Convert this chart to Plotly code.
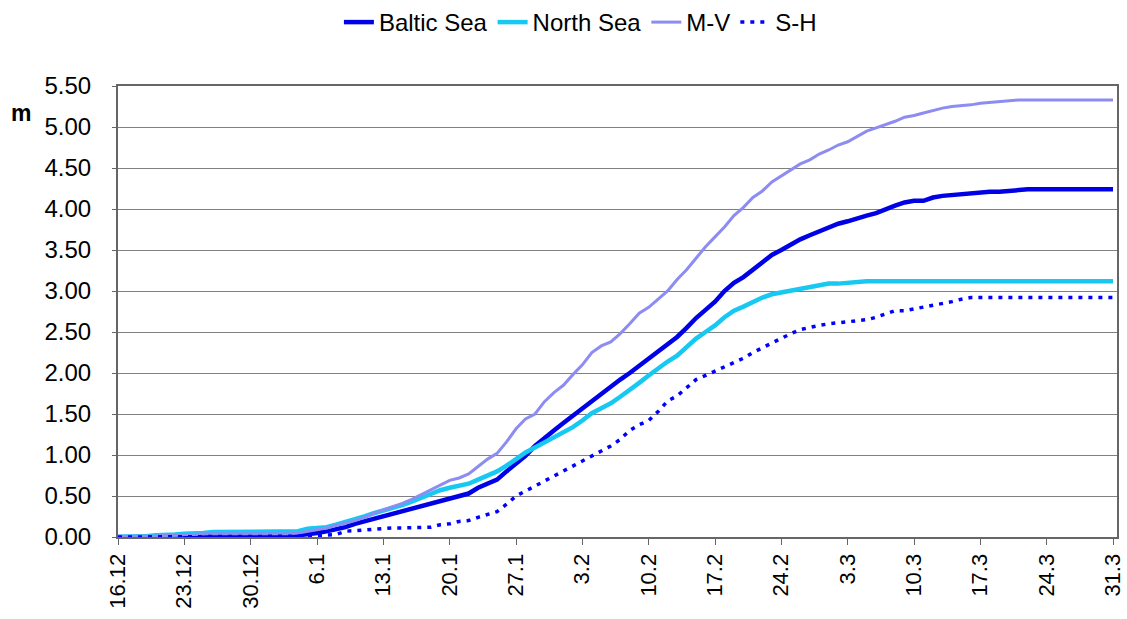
import plotly.graph_objects as go

# Days from 16.12 to 31.3 (106 daily values)
days = list(range(106))
tick_days = [0, 7, 14, 21, 28, 35, 42, 49, 56, 63, 70, 77, 84, 91, 98, 105]
tick_labels = ["16.12", "23.12", "30.12", "6.1", "13.1", "20.1", "27.1", "3.2",
               "10.2", "17.2", "24.2", "3.3", "10.3", "17.3", "24.3", "31.3"]

baltic_sea = [
    0.00, 0.00, 0.00, 0.00, 0.00, 0.01, 0.01, 0.01, 0.01, 0.01,
    0.01, 0.01, 0.01, 0.01, 0.01, 0.01, 0.01, 0.01, 0.01, 0.02,
    0.03, 0.05, 0.07, 0.09, 0.12, 0.16, 0.19, 0.23, 0.26, 0.29,
    0.32, 0.35, 0.37, 0.40, 0.43, 0.46, 0.49, 0.53, 0.60, 0.65,
    0.70, 0.80, 0.90, 0.99, 1.11, 1.21, 1.30, 1.39, 1.48, 1.57,
    1.66, 1.75, 1.84, 1.92, 2.00, 2.09, 2.17, 2.26, 2.35, 2.44,
    2.55, 2.67, 2.77, 2.87, 3.00, 3.10, 3.17, 3.26, 3.35, 3.44,
    3.50, 3.57, 3.63, 3.68, 3.73, 3.78, 3.82, 3.85, 3.89, 3.92,
    3.95, 4.00, 4.04, 4.08, 4.10, 4.10, 4.14, 4.16, 4.17, 4.19,
    4.20, 4.21, 4.21, 4.21, 4.22, 4.24, 4.24, 4.24, 4.24, 4.24,
    4.24, 4.24, 4.24, 4.24, 4.24, 4.24,
]

north_sea = [
    0.00, 0.00, 0.01, 0.01, 0.02, 0.02, 0.03, 0.04, 0.04, 0.05,
    0.06, 0.06, 0.06, 0.06, 0.06, 0.06, 0.06, 0.06, 0.06, 0.07,
    0.10, 0.11, 0.12, 0.15, 0.18, 0.21, 0.25, 0.29, 0.32, 0.36,
    0.39, 0.43, 0.48, 0.52, 0.57, 0.60, 0.62, 0.65, 0.70, 0.75,
    0.80, 0.87, 0.95, 1.03, 1.09, 1.15, 1.21, 1.27, 1.34, 1.42,
    1.51, 1.57, 1.63, 1.71, 1.79, 1.88, 1.97, 2.06, 2.14, 2.21,
    2.31, 2.42, 2.50, 2.58, 2.68, 2.76, 2.81, 2.87, 2.92, 2.96,
    2.98, 3.01, 3.03, 3.05, 3.07, 3.09, 3.09, 3.10, 3.12, 3.12,
    3.12, 3.12, 3.12, 3.12, 3.12, 3.12, 3.12, 3.12, 3.12, 3.12,
    3.12, 3.12, 3.12, 3.12, 3.12, 3.12, 3.12, 3.12, 3.12, 3.12,
    3.12, 3.12, 3.12, 3.12, 3.12, 3.12,
]

m_v = [
    0.00, 0.00, 0.01, 0.01, 0.01, 0.02, 0.02, 0.03, 0.03, 0.04,
    0.04, 0.04, 0.04, 0.04, 0.04, 0.04, 0.04, 0.04, 0.04, 0.05,
    0.07, 0.09, 0.11, 0.14, 0.17, 0.20, 0.24, 0.29, 0.33, 0.37,
    0.41, 0.46, 0.52, 0.58, 0.63, 0.69, 0.72, 0.77, 0.86, 0.95,
    1.02, 1.16, 1.32, 1.44, 1.50, 1.65, 1.76, 1.85, 1.98, 2.10,
    2.25, 2.33, 2.38, 2.48, 2.60, 2.73, 2.80, 2.90, 3.00, 3.14,
    3.26, 3.40, 3.54, 3.66, 3.78, 3.92, 4.02, 4.14, 4.22, 4.33,
    4.40, 4.47, 4.55, 4.60, 4.67, 4.72, 4.78, 4.82, 4.88, 4.95,
    4.99, 5.03, 5.07, 5.12, 5.14, 5.17, 5.20, 5.23, 5.25, 5.26,
    5.27, 5.29, 5.30, 5.31, 5.32, 5.33, 5.33, 5.33, 5.33, 5.33,
    5.33, 5.33, 5.33, 5.33, 5.33, 5.33,
]

s_h = [
    0.00, 0.00, 0.00, 0.00, 0.00, 0.00, 0.00, 0.00, 0.00, 0.00,
    0.00, 0.00, 0.00, 0.00, 0.00, 0.00, 0.00, 0.00, 0.00, 0.00,
    0.01, 0.02, 0.03, 0.03, 0.07, 0.08, 0.08, 0.10, 0.11, 0.11,
    0.11, 0.11, 0.12, 0.12, 0.15, 0.16, 0.19, 0.20, 0.24, 0.28,
    0.31, 0.40, 0.50, 0.56, 0.62, 0.68, 0.74, 0.80, 0.86, 0.92,
    0.98, 1.04, 1.11, 1.19, 1.30, 1.37, 1.42, 1.53, 1.66, 1.72,
    1.82, 1.92, 1.97, 2.02, 2.08, 2.13, 2.18, 2.25, 2.31, 2.37,
    2.43, 2.48, 2.53, 2.56, 2.58, 2.60, 2.61, 2.62, 2.64, 2.65,
    2.68, 2.72, 2.76, 2.76, 2.78, 2.80, 2.82, 2.84, 2.87, 2.90,
    2.92, 2.92, 2.92, 2.92, 2.92, 2.92, 2.92, 2.92, 2.92, 2.92,
    2.92, 2.92, 2.92, 2.92, 2.92, 2.92,
]

y_ticks = [0.0, 0.5, 1.0, 1.5, 2.0, 2.5, 3.0, 3.5, 4.0, 4.5, 5.0, 5.5]

FONT = "Arial, 'Liberation Sans', sans-serif"

fig = go.Figure()
fig.add_trace(go.Scatter(x=days, y=baltic_sea, name="Baltic Sea", mode="lines",
                         line=dict(color="#0000E6", width=4.5)))
fig.add_trace(go.Scatter(x=days, y=north_sea, name="North Sea", mode="lines",
                         line=dict(color="#16C8F2", width=4.5)))
fig.add_trace(go.Scatter(x=days, y=m_v, name="M-V", mode="lines",
                         line=dict(color="#8C8CF2", width=3)))
fig.add_trace(go.Scatter(x=days, y=s_h, name="S-H", mode="lines",
                         line=dict(color="#0000FF", width=3.5, dash="4px,6px")))

fig.update_layout(
    width=1127, height=619,
    margin=dict(l=118, r=10, t=86, b=82),
    paper_bgcolor="white", plot_bgcolor="white",
    font=dict(family=FONT, size=22, color="black"),
    showlegend=True,
    legend=dict(orientation="h", x=0.515, xref="container", xanchor="center",
                y=1.0, yref="container", yanchor="top",
                font=dict(size=24), itemwidth=30, traceorder="normal"),
    xaxis=dict(range=[0, 105.42], tickmode="array", tickvals=tick_days,
               ticktext=tick_labels, tickangle=-90, ticks="outside",
               ticklen=6, tickcolor="#666666", showgrid=False,
               showline=True, linecolor="#666666", linewidth=2, mirror=True,
               zeroline=False, automargin=False, tickfont=dict(size=22)),
    yaxis=dict(range=[0, 5.5], tickmode="array", tickvals=y_ticks,
               tickformat=".2f", ticks="outside", ticklen=4,
               tickcolor="#666666", showgrid=True, gridcolor="#808080",
               gridwidth=1, showline=True, linecolor="#666666", linewidth=2,
               mirror=True, zeroline=False, automargin=False,
               ticklabelstandoff=16, tickfont=dict(size=24)),
    annotations=[dict(text="<b>m</b>", xref="paper", yref="paper",
                      x=(21 - 118) / 999, y=(537 - 113) / 451,
                      xanchor="center", yanchor="middle",
                      showarrow=False, font=dict(size=23))],
)

fig.write_html("out.html")
